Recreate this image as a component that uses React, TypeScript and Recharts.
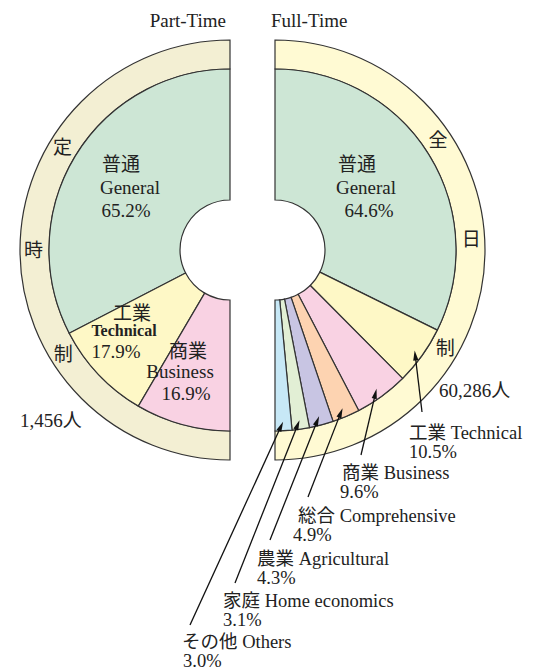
import React from "react";
import { PieChart, Pie, Cell } from "recharts";

// Part-Time (定時制)
const partCats = ["普通", "工業", "商業"];
const partEn = ["General", "Technical", "Business"];
const partPct = [65.2, 17.9, 16.9];
const partColors = ["#cde6d5", "#fef8c6", "#f9d2e3"];
const partTotal = "1,456人";
const partRingChars = ["定", "時", "制"];

// Full-Time (全日制)
const fullCats = ["普通", "工業", "商業", "総合", "農業", "家庭", "その他"];
const fullEn = [
  "General",
  "Technical",
  "Business",
  "Comprehensive",
  "Agricultural",
  "Home economics",
  "Others",
];
const fullPct = [64.6, 10.5, 9.6, 4.9, 4.3, 3.1, 3.0];
const fullColors = ["#cde6d5", "#fef8c6", "#f9d2e3", "#fdd3b1", "#c8c5e3", "#e2efd5", "#c7e8f6"];
const fullTotal = "60,286人";
const fullRingChars = ["全", "日", "制"];

const partData = partCats.map((c, i) => ({ name: c, value: partPct[i] }));
const fullData = fullCats.map((c, i) => ({ name: c, value: fullPct[i] }));
const ringData = [{ name: "ring", value: 1 }];

// layout
const FONT = "'Liberation Serif', 'Noto Sans CJK JP', serif";
const INK = "#222";
const EDGE = "#333";
const LEFT_CX = 225;
const RIGHT_CX = 270;
const CY = 245;
const HOLE_R = 50;
const PIE_R = 181;
const RING_R = 210;
const RAD = Math.PI / 180;

// [x, y] per line (cjk, english, percent), text centered
const partLabelPos = [
  [[121, 171], [130, 194], [126, 217]],
  [[132, 320], [124, 336], [116, 358]],
  [[188, 358], [180, 378], [186, 400]],
];
const fullGeneralPos = [[357, 171], [366, 194], [369, 217]];
// outside labels: [line1 x,y], [line2 x,y], [arrow tail x,y]
const fullOutsidePos = [
  null,
  [[409, 439], [409, 458], [422, 412]],
  [[342, 479], [340, 498], [361, 455]],
  [[298, 522], [293, 541], [308, 497]],
  [[257, 565], [257, 584], [270, 540]],
  [[223, 607], [223, 626], [235, 583]],
  [[182, 648], [183, 667], [190, 625]],
];
const partRingAngles = [148.5, 180, 212];
const fullRingAngles = [34, 3, -30];

const polar = (cx: number, cy: number, r: number, a: number) => ({
  x: cx + r * Math.cos(-a * RAD),
  y: cy + r * Math.sin(-a * RAD),
});

const txt = (size: number, weight: string | number = "normal") => ({
  fontFamily: FONT,
  fontSize: size,
  fontWeight: weight,
  fill: INK,
});

const renderPartLabel = (props: any) => {
  const { index } = props;
  const p = partLabelPos[index];
  return (
    <g key={`pl-${index}`}>
      <text x={p[0][0]} y={p[0][1]} textAnchor="middle" style={txt(19)}>
        {partCats[index]}
      </text>
      <text
        x={p[1][0]}
        y={p[1][1]}
        textAnchor="middle"
        style={index === 1 ? txt(16, "bold") : txt(19)}
      >
        {partEn[index]}
      </text>
      <text x={p[2][0]} y={p[2][1]} textAnchor="middle" style={txt(19)}>
        {partPct[index].toFixed(1)}%
      </text>
    </g>
  );
};

const Arrow = ({ from, to }: { from: { x: number; y: number }; to: { x: number; y: number } }) => {
  const dx = to.x - from.x;
  const dy = to.y - from.y;
  const len = Math.sqrt(dx * dx + dy * dy);
  const ux = dx / len;
  const uy = dy / len;
  const hl = 10;
  const hw = 2.6;
  const bx = to.x - ux * hl;
  const by = to.y - uy * hl;
  return (
    <g>
      <line x1={from.x} y1={from.y} x2={bx + ux * 2} y2={by + uy * 2} stroke="#111" strokeWidth={1.3} />
      <polygon
        points={`${to.x},${to.y} ${bx - uy * hw},${by + ux * hw} ${bx + uy * hw},${by - ux * hw}`}
        fill="#111"
      />
    </g>
  );
};

const renderFullLabel = (props: any) => {
  const { index, cx, cy, midAngle } = props;
  if (index === 0) {
    const p = fullGeneralPos;
    return (
      <g key="fl-0">
        <text x={p[0][0]} y={p[0][1]} textAnchor="middle" style={txt(19)}>
          {fullCats[0]}
        </text>
        <text x={p[1][0]} y={p[1][1]} textAnchor="middle" style={txt(19)}>
          {fullEn[0]}
        </text>
        <text x={p[2][0]} y={p[2][1]} textAnchor="middle" style={txt(19)}>
          {fullPct[0].toFixed(1)}%
        </text>
      </g>
    );
  }
  const p = fullOutsidePos[index]!;
  const head = polar(cx, cy, 172, midAngle);
  return (
    <g key={`fl-${index}`}>
      <Arrow from={{ x: p[2][0], y: p[2][1] }} to={head} />
      <text x={p[0][0]} y={p[0][1]} textAnchor="start" style={txt(18.5)}>
        {fullCats[index]} {fullEn[index]}
      </text>
      <text x={p[1][0]} y={p[1][1]} textAnchor="start" style={txt(18.5)}>
        {fullPct[index].toFixed(1)}%
      </text>
    </g>
  );
};

const ringLabel = (chars: string[], angles: number[]) => (props: any) => {
  const { cx, cy } = props;
  const r = (PIE_R + RING_R) / 2 + 1;
  return (
    <g>
      {chars.map((c, i) => {
        const p = polar(cx, cy, r, angles[i]);
        return (
          <text
            key={c + i}
            x={p.x}
            y={p.y}
            textAnchor="middle"
            dominantBaseline="central"
            style={txt(19)}
          >
            {c}
          </text>
        );
      })}
    </g>
  );
};

export default function App() {
  return (
    <div style={{ position: "absolute", left: 0, top: 0, background: "#fff" }}>
      <PieChart width={545} height={672}>
        <Pie
          data={ringData}
          dataKey="value"
          cx={LEFT_CX}
          cy={CY}
          innerRadius={PIE_R}
          outerRadius={RING_R}
          startAngle={90}
          endAngle={270}
          stroke={EDGE}
          strokeWidth={1.2}
          fill="#f3efd3"
          label={ringLabel(partRingChars, partRingAngles)}
          labelLine={false}
          isAnimationActive={false}
        />
        <Pie
          data={ringData}
          dataKey="value"
          cx={RIGHT_CX}
          cy={CY}
          innerRadius={PIE_R}
          outerRadius={RING_R}
          startAngle={90}
          endAngle={-90}
          stroke={EDGE}
          strokeWidth={1.2}
          fill="#fffad3"
          label={ringLabel(fullRingChars, fullRingAngles)}
          labelLine={false}
          isAnimationActive={false}
        />
        <Pie
          data={partData}
          dataKey="value"
          cx={LEFT_CX}
          cy={CY}
          innerRadius={HOLE_R}
          outerRadius={PIE_R}
          startAngle={90}
          endAngle={270}
          stroke={EDGE}
          strokeWidth={1.2}
          label={renderPartLabel}
          labelLine={false}
          isAnimationActive={false}
        >
          {partData.map((d, i) => (
            <Cell key={d.name} fill={partColors[i]} />
          ))}
        </Pie>
        <Pie
          data={fullData}
          dataKey="value"
          cx={RIGHT_CX}
          cy={CY}
          innerRadius={HOLE_R}
          outerRadius={PIE_R}
          startAngle={90}
          endAngle={-90}
          stroke={EDGE}
          strokeWidth={1.2}
          label={renderFullLabel}
          labelLine={false}
          isAnimationActive={false}
        >
          {fullData.map((d, i) => (
            <Cell key={d.name} fill={fullColors[i]} />
          ))}
        </Pie>
        <text x={226} y={27} textAnchor="end" style={txt(19)}>
          Part-Time
        </text>
        <text x={271} y={27} textAnchor="start" style={txt(19)}>
          Full-Time
        </text>
        <text x={20} y={427} textAnchor="start" style={txt(19)}>
          {partTotal}
        </text>
        <text x={439} y={397} textAnchor="start" style={txt(19)}>
          {fullTotal}
        </text>
      </PieChart>
    </div>
  );
}
